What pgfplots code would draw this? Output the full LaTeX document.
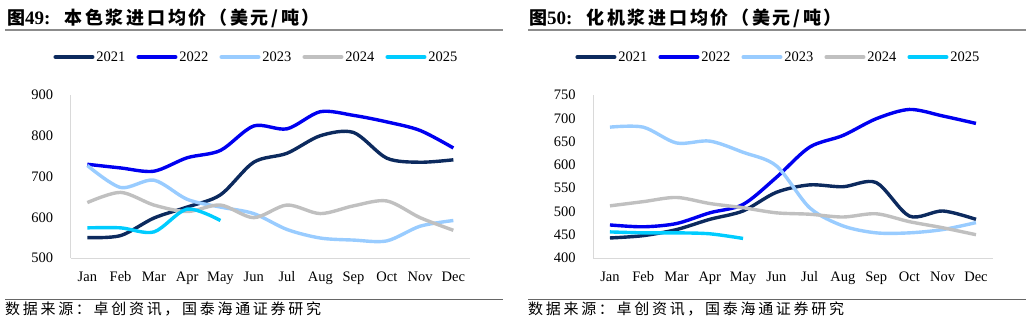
\documentclass[border=0pt]{standalone}
\usepackage{pgfplots}
\pgfplotsset{compat=1.18}
\usepackage{fontspec}
\setmainfont{Liberation Serif}
\newfontfamily\cjkt[LetterSpace=15]{Noto Sans CJK SC}
\newfontfamily\cjkf[LetterSpace=18]{Noto Sans CJK SC}
\definecolor{c21}{HTML}{0C2A5E}
\definecolor{c22}{HTML}{0000F0}
\definecolor{c23}{HTML}{99CCFF}
\definecolor{c24}{HTML}{C0C0C0}
\definecolor{c25}{HTML}{00CCFF}
\definecolor{axgray}{HTML}{D9D9D9}
\pgfplotsset{
  panel/.style={
    scale only axis, width=399.3bp, height=163bp,
    xmin=-0.5, xmax=11.5,
    xtick={0,...,11},
    xticklabels={Jan,Feb,Mar,Apr,May,Jun,Jul,Aug,Sep,Oct,Nov,Dec},
    axis x line*=bottom, axis y line*=left,
    axis line style={draw=axgray, line width=1bp, -},
    major tick length=0pt, tick style={draw=none},
    ticklabel style={font=\fontsize{14.5bp}{16bp}\selectfont},
    /pgf/number format/assume math mode=true,
    yticklabel style={inner xsep=0pt, xshift=-17.5bp},
    xticklabel style={anchor=base, inner sep=0pt, yshift=-23bp},
    legend columns=5,
    legend style={draw=none, fill=none,
      nodes={inner xsep=2bp, inner ysep=0bp, font=\fontsize{14.5bp}{16bp}\selectfont},
      /tikz/every even column/.append style={column sep=9bp}},
    legend image code/.code={\draw[##1, line width=3.5bp, line cap=round] (1.75bp,0bp) -- (39.25bp,0bp);},
    every axis plot/.append style={line width=3.4bp, smooth, no markers},
  }
}
\begin{document}
\begin{tikzpicture}[x=1bp,y=1bp]
\useasboundingbox (0,0) rectangle (1032,325);
% titles
\node[anchor=base west, inner sep=0] at (7,301) {\fontsize{18bp}{20bp}\selectfont{\cjkt\bfseries 图}{\fontsize{19bp}{20bp}\selectfont\bfseries 49:}\hspace{14bp}{\cjkt\bfseries 本色浆进口均价（美元/吨）}};
\node[anchor=base west, inner sep=0] at (529,301) {\fontsize{18bp}{20bp}\selectfont{\cjkt\bfseries 图}{\fontsize{19bp}{20bp}\selectfont\bfseries 50:}\hspace{14bp}{\cjkt\bfseries 化机浆进口均价（美元/吨）}};
\draw[line width=1.5bp, black!45] (5,295) -- (503,295);
\draw[line width=1.5bp, black!45] (528,295) -- (1026,295);
\draw[line width=0.8bp, black!60] (5,26) -- (503,26);
\draw[line width=0.8bp, black!60] (528,26) -- (1026,26);
\node[anchor=base west, inner sep=0] at (5,11) {\fontsize{15bp}{17bp}\selectfont\cjkf 数据来源：卓创资讯，国泰海通证券研究};
\node[anchor=base west, inner sep=0] at (528,11) {\fontsize{15bp}{17bp}\selectfont\cjkf 数据来源：卓创资讯，国泰海通证券研究};

\begin{axis}[panel, at={(70.7bp,67bp)}, anchor=south west,
  ymin=500, ymax=900, ytick={500,600,...,900},
  legend style={at={(0.4653,1.233)}, anchor=center}]
\addplot[c21] coordinates {(0,550)(1,555)(2,598)(3,625)(4,655)(5,735)(6,757)(7,800)(8,808)(9,745)(10,735)(11,741)};
\addplot[c22] coordinates {(0,730)(1,721)(2,713)(3,746)(4,764)(5,824)(6,817)(7,859)(8,850)(9,834)(10,813)(11,770)};
\addplot[c23] coordinates {(0,727)(1,673)(2,691)(3,644)(4,625)(5,609)(6,570)(7,549)(8,544)(9,542)(10,578)(11,592)};
\addplot[c24] coordinates {(0,636)(1,661)(2,630)(3,614)(4,630)(5,599)(6,630)(7,609)(8,628)(9,640)(10,599)(11,568)};
\addplot[c25] coordinates {(0,574)(1,574)(2,564)(3,620)(4,592)};
\legend{2021,2022,2023,2024,2025}
\end{axis}

\begin{axis}[panel, at={(593.3bp,67bp)}, anchor=south west,
  ymin=400, ymax=750, ytick={400,450,...,750},
  legend style={at={(0.4637,1.233)}, anchor=center}]
\addplot[c21] coordinates {(0,443)(1,448)(2,461)(3,483)(4,501)(5,541)(6,557)(7,553)(8,562)(9,490)(10,501)(11,483)};
\addplot[c22] coordinates {(0,471)(1,467)(2,474)(3,497)(4,515)(5,573)(6,638)(7,663)(8,699)(9,719)(10,705)(11,689)};
\addplot[c23] coordinates {(0,681)(1,681)(2,647)(3,651)(4,627)(5,598)(6,508)(7,469)(8,454)(9,454)(10,461)(11,476)};
\addplot[c24] coordinates {(0,512)(1,521)(2,530)(3,517)(4,508)(5,497)(6,494)(7,488)(8,495)(9,478)(10,465)(11,450)};
\addplot[c25] coordinates {(0,456)(1,454)(2,454)(3,452)(4,442)};
\legend{2021,2022,2023,2024,2025}
\end{axis}
\end{tikzpicture}
\end{document}
